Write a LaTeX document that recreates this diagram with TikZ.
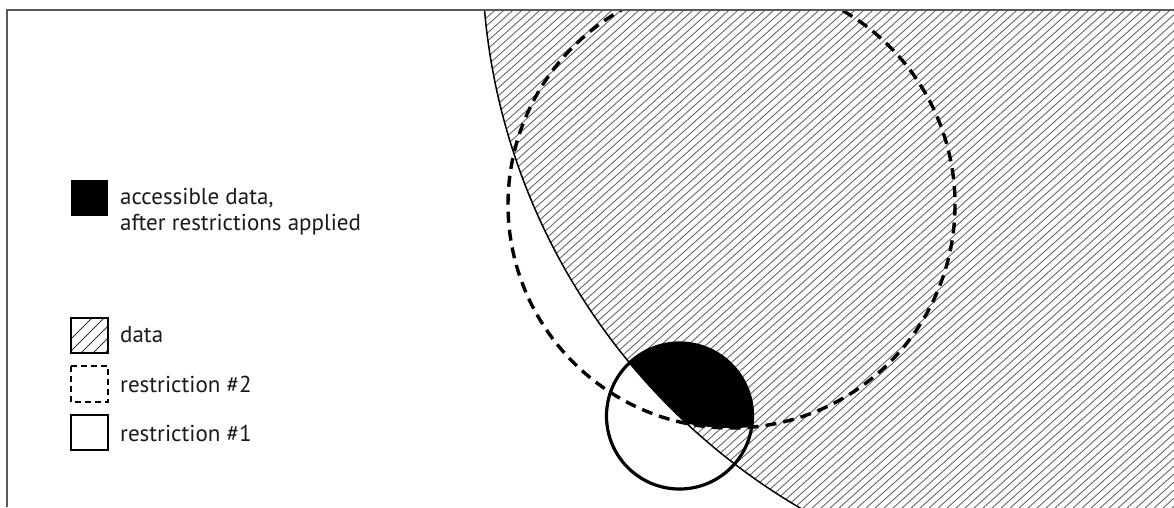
\documentclass[tikz,border=0pt]{standalone}
\usepackage{fontspec}
\setmainfont{PT Sans}
\begin{document}
\begin{tikzpicture}[x=1pt,y=-1pt,
  hatchline/.style={draw=black!62,line width=0.85pt},
  frameline/.style={draw=black!65,line width=1.3pt},
  datacircle/.style={draw=black,line width=1.5pt},
  restrtwo/.style={draw=black,line width=3.4pt,dash pattern=on 11pt off 7pt},
  restrone/.style={draw=black,line width=3.2pt},
  legbox/.style={line width=1.5pt},
  legtext/.style={anchor=west,inner sep=0pt,font=\fontsize{23}{26}\selectfont,text=black!90,align=left}]
\useasboundingbox (0,0) rectangle (1174,507);
% frame
\draw[frameline] (7,507) -- (7,10) -- (1174,10);
% hatching of data circle
\begin{scope}
  \clip (0,11) rectangle (1174,507);
  \clip (1125,-47) circle (643);
  \foreach \k in {-200,-191,...,1250} {
    \draw[hatchline] (\k,560) -- ({\k+670},-40);
  }
\end{scope}
% accessible region
\begin{scope}
  \clip (1125,-47) circle (643);
  \clip (731.5,204.5) circle (223.5);
  \fill[black] (679.5,416) circle (73);
\end{scope}
% outlines
\begin{scope}
  \clip (0,11) rectangle (1174,507);
  \draw[datacircle] (1125,-47) circle (643);
  \draw[restrtwo] (731.5,204.5) circle (223.5);
\end{scope}
\draw[restrone] (679.5,416) circle (73);
% legend
\fill[black] (71,180) rectangle (108,216);
\node[legtext] (lacc) at (120,212) {accessible data,\\after restrictions applied};
\begin{scope}
  \clip (71,318) rectangle (108,353);
  \foreach \k in {50,62,...,120} {
    \draw[draw=black!80,line width=1pt] (\k,360) -- ({\k+50},310);
  }
\end{scope}
\draw[legbox] (71,318) rectangle (108,353);
\node[legtext] (ldata) at (120,335) {data};
\draw[legbox,dash pattern=on 6pt off 4pt] (71,366) rectangle (108,402);
\node[legtext] (lr2) at (120,384) {restriction \#2};
\draw[legbox] (71,415) rectangle (108,450);
\node[legtext] (lr1) at (120,433) {restriction \#1};
\end{tikzpicture}
\end{document}
